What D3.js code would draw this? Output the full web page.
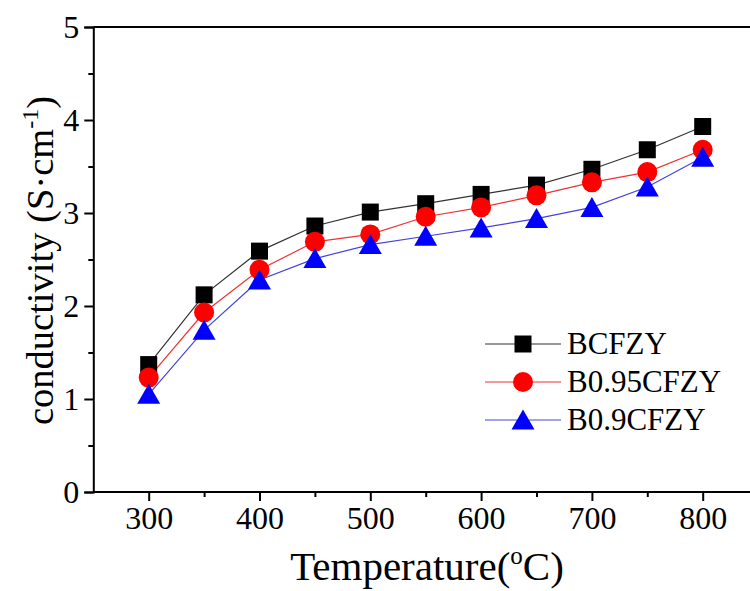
<!DOCTYPE html>
<html>
<head>
<meta charset="utf-8">
<script src="https://cdn.jsdelivr.net/npm/d3@7"></script>
<style>
  html, body { margin: 0; padding: 0; background: #fff; }
  svg { display: block; }
  svg text { font-family: "Liberation Serif", "Times New Roman", serif !important; fill: #000; }
</style>
</head>
<body>
<div id="chart"></div>
<script>
// Conductivity vs temperature for three compositions
const temperatures = [300, 350, 400, 450, 500, 550, 600, 650, 700, 750, 800];
const bcfzy      = [1.37, 2.12, 2.59, 2.86, 3.01, 3.10, 3.20, 3.30, 3.47, 3.68, 3.93];
const b095cfzy   = [1.23, 1.93, 2.39, 2.69, 2.77, 2.96, 3.06, 3.19, 3.33, 3.44, 3.68];
const b09cfzy    = [1.05, 1.74, 2.28, 2.51, 2.66, 2.75, 2.84, 2.94, 3.06, 3.28, 3.60];
const seriesNames = ["BCFZY", "B0.95CFZY", "B0.9CFZY"];
const xTicks = [300, 400, 500, 600, 700, 800];
const yTicks = [0, 1, 2, 3, 4, 5];

const W = 750, H = 591;
const FONT = "Liberation Serif";

const svg = d3.select("#chart").append("svg")
  .attr("width", W).attr("height", H);

const x = d3.scaleLinear().domain([250, 850]).range([93.3, 93.3 + 600 * 1.108]);
const y = d3.scaleLinear().domain([0, 5]).range([492, 27]);

const series = [
  { name: seriesNames[0], values: bcfzy,    line: "#333", fill: "#000", shape: "square" },
  { name: seriesNames[1], values: b095cfzy, line: "#e33", fill: "#f00", shape: "circle" },
  { name: seriesNames[2], values: b09cfzy,  line: "#44d", fill: "#00f", shape: "triangle" }
];

function drawMarker(g, shape, fill) {
  if (shape === "square") {
    g.append("rect").attr("x", -8.5).attr("y", -8.5).attr("width", 17).attr("height", 17).attr("fill", fill);
  } else if (shape === "circle") {
    g.append("circle").attr("r", 10).attr("fill", fill);
  } else {
    g.append("path").attr("d", "M0,-10.5 L11.5,9.5 L-11.5,9.5 Z").attr("fill", fill);
  }
}

// top frame line
svg.append("line")
  .attr("x1", x(250)).attr("x2", W)
  .attr("y1", y(5)).attr("y2", y(5))
  .attr("stroke", "#000").attr("stroke-width", 2);

// x axis: major ticks with labels plus minor ticks
const xAxis = svg.append("g").attr("transform", `translate(0,${y(0)})`);
xAxis.call(d3.axisBottom(x).tickValues(xTicks).tickSize(9).tickPadding(5).tickFormat(d3.format("d")));
xAxis.append("g").call(d3.axisBottom(x).tickValues([350, 450, 550, 650, 750]).tickSize(5).tickFormat(""))
  .select(".domain").remove();
xAxis.select(".domain").attr("d", `M${x(250)},0H${W}`);

// y axis
const yAxis = svg.append("g").attr("transform", `translate(${x(250)},0)`);
yAxis.call(d3.axisLeft(y).tickValues(yTicks).tickSize(9).tickPadding(5).tickFormat(d3.format("d")));
yAxis.append("g").call(d3.axisLeft(y).tickValues([0.5, 1.5, 2.5, 3.5, 4.5]).tickSize(5).tickFormat(""))
  .select(".domain").remove();

svg.selectAll("g").attr("font-family", FONT);
svg.selectAll(".domain, .tick line").attr("stroke", "#000").attr("stroke-width", 2);
svg.selectAll(".tick text").attr("font-size", 32).attr("fill", "#000");

// lines and markers
const lineGen = d3.line().x((d, i) => x(temperatures[i])).y(d => y(d));
series.forEach(s => {
  svg.append("path").datum(s.values)
    .attr("d", lineGen).attr("fill", "none")
    .attr("stroke", s.line).attr("stroke-width", 1.2);
});
series.forEach(s => {
  s.values.forEach((v, i) => {
    const g = svg.append("g").attr("transform", `translate(${x(temperatures[i])},${y(v)})`);
    drawMarker(g, s.shape, s.fill);
  });
});

// legend
const legend = svg.append("g").attr("transform", "translate(485,344)");
series.forEach((s, i) => {
  const row = legend.append("g").attr("transform", `translate(0,${i * 38})`);
  row.append("line").attr("x1", 0).attr("x2", 76).attr("stroke", s.line).attr("stroke-width", 1.2);
  const m = row.append("g").attr("transform", "translate(38,0)");
  drawMarker(m, s.shape, s.fill);
  row.append("text").attr("x", 82).attr("y", 10).attr("font-family", FONT).attr("font-size", 31).text(s.name);
});

// axis titles
svg.append("text")
  .attr("transform", `translate(53,${(y(0) + y(5)) / 2 + 1}) rotate(-90)`)
  .attr("text-anchor", "middle").attr("font-family", FONT).attr("font-size", 38.5)
  .html('conductivity (S·cm<tspan dy="-15" font-size="24">-1</tspan><tspan dy="15">)</tspan>');

svg.append("text")
  .attr("x", 427).attr("y", 580)
  .attr("text-anchor", "middle").attr("font-family", FONT).attr("font-size", 41)
  .html('Temperature(<tspan dy="-16" font-size="25">o</tspan><tspan dy="16">C)</tspan>');
</script>
</body>
</html>
